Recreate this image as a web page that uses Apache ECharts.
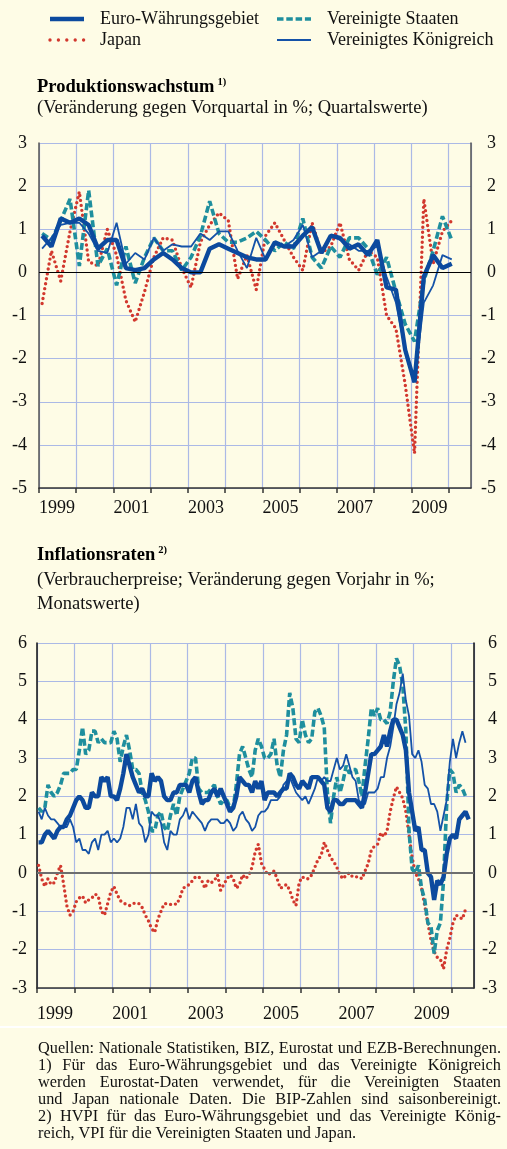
<!DOCTYPE html>
<html>
<head>
<meta charset="utf-8">
<script src="https://cdn.jsdelivr.net/npm/echarts@6/dist/echarts.min.js"></script>
<style>
    html, body { margin: 0; padding: 0; background: #fefce6; }
    #main { position: absolute; left: 0; top: 0; width: 507px; height: 1149px; }
    #notes {
        position: absolute; left: 38px; top: 1039px; width: 463px;
        font-family: 'Liberation Serif', serif; font-size: 16.3px; line-height: 17px; color: #111;
    }
    #notes div { white-space: nowrap; }
    #notes .j { text-align: justify; text-align-last: justify; }
</style>
</head>
<body>
<div id="main"></div>
<div id="notes">
    <div class="j">Quellen: Nationale Statistiken, BIZ, Eurostat und EZB-Berechnungen.</div>
    <div class="j">1) Für das Euro-Währungsgebiet und das Vereinigte Königreich</div>
    <div class="j">werden Eurostat-Daten verwendet, für die Vereinigten Staaten</div>
    <div class="j">und Japan nationale Daten. Die BIP-Zahlen sind saisonbereinigt.</div>
    <div class="j">2) HVPI für das Euro-Währungsgebiet und das Vereinigte König-</div>
    <div>reich, VPI für die Vereinigten Staaten und Japan.</div>
</div>
<script>
    // Quartalswerte 1999 Q1 - 2010 Q1
    var euroGdp = [0.85, 0.6, 1.25, 1.15, 1.25, 1.1, 0.55, 0.75, 0.75, 0.1, 0.05, 0.1, 0.3, 0.45, 0.3, 0.1,
        0.0, 0.0, 0.55, 0.65, 0.55, 0.45, 0.35, 0.3, 0.3, 0.7, 0.6, 0.6, 0.85, 1.05, 0.45, 0.85,
        0.8, 0.55, 0.65, 0.4, 0.75, -0.35, -0.4, -1.8, -2.55, -0.1, 0.4, 0.1, 0.2]
    var usGdp = [0.9, 0.75, 1.2, 1.7, 0.15, 1.9, 0.15, 0.55, -0.3, 0.6, -0.25, 0.35, 0.8, 0.5, 0.5, 0.05,
        0.35, 0.85, 1.65, 0.9, 0.7, 0.7, 0.8, 0.95, 0.75, 0.5, 0.7, 0.55, 1.25, 0.35, 0.1, 0.6,
        0.35, 0.8, 0.8, 0.55, -0.05, 0.35, -0.45, -1.2, -1.6, -0.2, 0.5, 1.3, 0.75]
    var japanGdp = [-0.72, 0.5, -0.2, 0.95, 1.87, 0.25, 0.15, 1.0, 0.4, -0.65, -1.15, -0.45, 0.35, 0.8, 0.75, 0.1,
        -0.35, 0.7, 1.1, 1.38, 1.2, -0.15, 0.4, -0.4, 0.85, 1.15, 0.75, 0.35, 0.05, 1.15, 0.45, 0.6,
        1.15, 0.3, 0.05, 0.5, 0.35, -1.0, -1.3, -2.6, -4.2, 1.7, 0.2, 0.95, 1.2]
    var ukGdp = [0.55, 0.8, 1.1, 1.15, 1.15, 0.9, 0.5, 0.45, 1.15, 0.2, 0.45, 0.3, 0.8, 0.5, 0.65, 0.6,
        0.6, 0.9, 0.75, 0.95, 0.95, 0.5, 0.1, 0.8, 0.3, 0.65, 0.6, 0.75, 1.1, 0.35, 0.5, 0.85,
        0.75, 0.65, 0.5, 0.5, 0.6, -0.1, -0.7, -1.8, -2.5, -0.7, -0.3, 0.4, 0.3]

    // Monatswerte ab Januar 1999
    var euroHicp = [0.8, 0.8, 1.0, 1.1, 1.0, 0.9, 1.1, 1.2, 1.2, 1.4, 1.5, 1.7,
        1.9, 2.0, 1.9, 1.7, 1.7, 2.1, 2.0, 2.0, 2.5, 2.4, 2.5, 2.0,
        2.0, 1.9, 2.2, 2.6, 3.1, 2.8, 2.5, 2.3, 2.1, 2.2, 2.0, 2.0,
        2.6, 2.4, 2.5, 2.4, 2.0, 1.9, 1.9, 2.1, 2.1, 2.3, 2.3, 2.3,
        2.1, 2.4, 2.5, 2.1, 1.8, 1.9, 1.9, 2.1, 2.2, 2.0, 2.2, 2.0,
        1.8, 1.6, 1.7, 2.0, 2.5, 2.4, 2.3, 2.3, 2.1, 2.4, 2.2, 2.4,
        1.9, 2.1, 2.1, 2.1, 2.0, 2.1, 2.2, 2.2, 2.6, 2.5, 2.3, 2.2,
        2.4, 2.3, 2.2, 2.5, 2.5, 2.5, 2.4, 2.3, 1.7, 1.6, 1.9, 1.9,
        1.8, 1.8, 1.9, 1.9, 1.9, 1.9, 1.8, 1.7, 2.1, 2.6, 3.1, 3.1,
        3.2, 3.3, 3.6, 3.3, 3.7, 4.0, 4.0, 3.8, 3.6, 3.2, 2.1, 1.6,
        1.1, 1.2, 0.6, 0.6, 0.0, -0.1, -0.7, -0.2, -0.3, -0.1, 0.5, 0.9,
        1.0, 0.9, 1.4, 1.5, 1.6, 1.4]
    var usCpi = [1.7, 1.6, 1.7, 2.3, 2.1, 2.0, 2.1, 2.3, 2.6, 2.6, 2.6, 2.7,
        2.7, 3.2, 3.8, 3.1, 3.2, 3.7, 3.7, 3.4, 3.5, 3.4, 3.4, 3.4,
        3.7, 3.5, 2.9, 3.3, 3.6, 3.2, 2.7, 2.7, 2.6, 2.1, 1.9, 1.6,
        1.1, 1.1, 1.5, 1.6, 1.2, 1.1, 1.5, 1.8, 1.5, 2.0, 2.2, 2.4,
        2.6, 3.0, 3.0, 2.2, 2.1, 2.1, 2.1, 2.2, 2.3, 2.0, 1.8, 1.9,
        1.9, 1.7, 1.7, 2.3, 3.1, 3.3, 3.0, 2.7, 2.5, 3.2, 3.5, 3.3,
        3.0, 3.0, 3.1, 3.5, 2.8, 2.5, 3.2, 3.6, 4.7, 4.3, 3.5, 3.4,
        4.0, 3.6, 3.4, 3.5, 4.2, 4.3, 4.1, 3.8, 2.1, 1.3, 2.0, 2.5,
        2.1, 2.4, 2.8, 2.6, 2.7, 2.7, 2.4, 2.0, 2.8, 3.5, 4.3, 4.1,
        4.3, 4.0, 4.0, 3.9, 4.2, 5.0, 5.6, 5.4, 4.9, 3.7, 1.1, 0.1,
        0.0, 0.2, -0.4, -0.7, -1.3, -1.4, -2.1, -1.5, -1.3, -0.2, 1.8, 2.7,
        2.6, 2.1, 2.3, 2.2, 2.0]
    var japanCpi = [0.2, -0.15, -0.35, -0.15, -0.3, -0.25, 0.0, 0.2, -0.3, -0.85, -1.1, -1.0,
        -0.75, -0.65, -0.6, -0.78, -0.7, -0.65, -0.55, -0.6, -1.0, -1.1, -0.8, -0.5,
        -0.35, -0.55, -0.72, -0.78, -0.82, -0.85, -0.8, -0.78, -0.8, -0.9, -1.1, -1.25,
        -1.45, -1.55, -1.2, -1.0, -0.8, -0.8, -0.82, -0.8, -0.82, -0.65, -0.4, -0.35,
        -0.3, -0.2, -0.1, -0.1, -0.2, -0.4, -0.2, -0.25, -0.2, -0.05, -0.45, -0.3,
        -0.15, -0.05, -0.15, -0.4, -0.3, -0.05, -0.15, -0.05, 0.15, 0.55, 0.75, 0.25,
        0.1, -0.05, 0.0, 0.05, -0.15, -0.4, -0.35, -0.3, -0.45, -0.7, -0.85, -0.25,
        -0.1, -0.15, -0.15, -0.05, 0.15, 0.35, 0.45, 0.8, 0.6, 0.4, 0.3, 0.15,
        -0.05, -0.15, -0.05, 0.0, -0.1, -0.1, -0.1, -0.15, 0.05, 0.25, 0.6, 0.7,
        0.75, 1.05, 0.95, 1.1, 1.6, 1.95, 2.25, 2.1, 1.95, 1.6, 1.0, 0.4,
        0.0, -0.15, -0.4, -0.85, -1.3, -1.75, -2.05, -2.2, -2.25, -2.5, -2.0, -1.7,
        -1.3, -1.1, -1.15, -1.2, -0.95]
    var ukCpi = [1.6, 1.4, 1.7, 1.5, 1.4, 1.4, 1.3, 1.2, 1.2, 1.2, 1.4, 1.2,
        0.8, 0.9, 0.6, 0.6, 0.5, 0.8, 0.9, 0.6, 1.0, 1.0, 1.1, 0.8,
        0.9, 0.8, 0.9, 1.2, 1.7, 1.7, 1.4, 1.8, 1.3, 1.2, 0.8, 1.0,
        1.6, 1.5, 1.5, 1.3, 0.8, 0.6, 1.1, 1.0, 1.0, 1.4, 1.5, 1.7,
        1.4, 1.6, 1.5, 1.4, 1.3, 1.1, 1.3, 1.4, 1.4, 1.4, 1.3, 1.3,
        1.4, 1.3, 1.1, 1.2, 1.5, 1.6, 1.4, 1.3, 1.1, 1.2, 1.5, 1.6,
        1.6, 1.7, 1.9, 1.9, 1.9, 2.0, 2.3, 2.4, 2.5, 2.3, 2.1, 2.0,
        1.9, 2.0, 1.8, 2.0, 2.2, 2.5, 2.4, 2.5, 2.4, 2.4, 2.7, 3.0,
        2.7, 2.8, 3.1, 2.8, 2.5, 2.4, 1.9, 1.8, 1.8, 2.1, 2.1, 2.1,
        2.2, 2.5, 2.5, 3.0, 3.3, 3.8, 4.4, 4.7, 5.2, 4.5, 4.1, 3.1,
        3.0, 3.2, 2.9, 2.3, 2.2, 1.8, 1.8, 1.6, 1.1, 1.5, 1.9, 2.9,
        3.5, 3.0, 3.4, 3.7, 3.4]

    var startYear = 1999
    var yearLabels = [1999, 2001, 2003, 2005, 2007, 2009]
    var names = ['Euro-Währungsgebiet', 'Vereinigte Staaten', 'Japan', 'Vereinigtes Königreich']

    var font = 'Liberation Serif'
    var txt = '#111'
    var gridColor = '#abb9e6'
    var cEuro = '#0c4a9e'
    var cUk = '#1452a8'
    var cUs = '#1f8f9e'
    var cJp = '#d2382e'

    // Quartal i in der Mitte des zweiten Monats, Monat k in der Monatsmitte
    function quarterly(arr) {
        return arr.map(function (v, i) { return [startYear + (i + 1 / 3) / 4, v] })
    }
    function monthly(arr) {
        return arr.map(function (v, k) { return [startYear + (k + 0.5) / 12, v] })
    }

    var myChart = echarts.init(document.getElementById('main'), null, { renderer: 'canvas' })

    function xAxisCfg(gridIndex, margin) {
        return {
            type: 'value', gridIndex: gridIndex, min: 1999, max: 2010.6, interval: 1,
            axisLine: { onZero: false, lineStyle: { color: '#333', width: 1.5 } },
            axisTick: { show: true, length: 5, lineStyle: { color: '#333', width: 1.5 } },
            axisLabel: {
                align: 'left', margin: margin, fontFamily: font, fontSize: 18, color: txt,
                showMaxLabel: false,
                formatter: function (v) { return yearLabels.indexOf(v) >= 0 ? String(v) : '' }
            },
            splitLine: { show: true, lineStyle: { color: gridColor, width: 1.2 } }
        }
    }
    function yAxisCfg(gridIndex, min, max, pos, margin, axisColor) {
        return {
            type: 'value', gridIndex: gridIndex, min: min, max: max, interval: 1, position: pos,
            axisLine: { show: true, lineStyle: { color: axisColor, width: 1.5 } },
            axisTick: { show: false },
            axisLabel: { align: 'right', margin: margin, fontFamily: font, fontSize: 18, color: txt },
            splitLine: { show: pos === 'left', lineStyle: { color: gridColor, width: 1.2 } }
        }
    }

    function zeroLine(color, width) {
        return {
            silent: true, symbol: 'none', label: { show: false },
            lineStyle: { color: color, width: width, type: 'solid' },
            data: [{ yAxis: 0 }]
        }
    }

    function seriesSet(xi, yi, euro, us, jp, uk, conv, zeroColor, zeroWidth) {
        return [{
            name: names[2], type: 'line', xAxisIndex: xi, yAxisIndex: yi, data: conv(jp),
            symbol: 'none', animation: false,
            lineStyle: { color: cJp, width: 3.4, type: [0, 5], cap: 'round' },
            markLine: zeroLine(zeroColor, zeroWidth)
        }, {
            name: names[1], type: 'line', xAxisIndex: xi, yAxisIndex: yi, data: conv(us),
            symbol: 'none', animation: false,
            lineStyle: { color: cUs, width: 3.6, type: [7, 3] }
        }, {
            name: names[3], type: 'line', xAxisIndex: xi, yAxisIndex: yi, data: conv(uk),
            symbol: 'none', animation: false,
            lineStyle: { color: cUk, width: 1.8 }
        }, {
            name: names[0], type: 'line', xAxisIndex: xi, yAxisIndex: yi, data: conv(euro),
            symbol: 'none', animation: false,
            lineStyle: { color: cEuro, width: 4.4 }
        }]
    }

    function legendItem(x, y, name, lineStyle) {
        return [{
            type: 'line', shape: { x1: x, y1: y, x2: x + 34, y2: y }, style: lineStyle
        }, {
            type: 'text', x: x + 50, y: y,
            style: { text: name, font: '18px "' + font + '"', fill: txt, verticalAlign: 'middle' }
        }]
    }

    function textEl(x, y, text, rich) {
        return {
            type: 'text', x: x, y: y,
            style: { text: text, font: '18.5px "' + font + '"', fill: txt, verticalAlign: 'middle', rich: rich }
        }
    }

    var titleRich = {
        a: { fontFamily: font, fontSize: 18.5, fontWeight: 'bold', fill: '#000', lineHeight: 20 },
        b: { fontFamily: font, fontSize: 10.5, fontWeight: 'bold', fill: '#000', verticalAlign: 'top', lineHeight: 20, padding: [0, 0, 0, 3] }
    }

    var graphic = [].concat(
        legendItem(50, 19, names[0], { stroke: cEuro, lineWidth: 4.4 }),
        legendItem(50, 40, names[2], { stroke: cJp, lineWidth: 3.4, lineDash: [0, 8.4], lineCap: 'round' }),
        legendItem(277, 19, names[1], { stroke: cUs, lineWidth: 3.6, lineDash: [6.5, 2.8] }),
        legendItem(277, 40, names[3], { stroke: cUk, lineWidth: 1.8 }),
        [
            textEl(37, 87, '{a|Produktionswachstum}{b|1)}', titleRich),
            textEl(37, 108, '(Veränderung gegen Vorquartal in %; Quartalswerte)'),
            textEl(37, 555, '{a|Inflationsraten}{b|2)}', titleRich),
            textEl(37, 580, '(Verbraucherpreise; Veränderung gegen Vorjahr in %;'),
            textEl(37, 604, 'Monatswerte)'),
            { type: 'rect', shape: { x: 0, y: 1026, width: 507, height: 2 }, style: { fill: '#ffffff' } }
        ]
    )

    var option = {
        backgroundColor: '#fefce6',
        animation: false,
        grid: [
            { left: 39, right: 36, top: 143, height: 345 },
            { left: 37, right: 33, top: 643, height: 345 }
        ],
        xAxis: [xAxisCfg(0, 11), xAxisCfg(1, 17)],
        yAxis: [
            yAxisCfg(0, -5, 3, 'left', 12, '#555'),
            yAxisCfg(0, -5, 3, 'right', 25, '#555'),
            yAxisCfg(1, -3, 6, 'left', 10, '#111'),
            yAxisCfg(1, -3, 6, 'right', 23, '#111')
        ],
        series: [].concat(
            seriesSet(0, 0, euroGdp, usGdp, japanGdp, ukGdp, quarterly, '#000', 1.2),
            seriesSet(1, 2, euroHicp, usCpi, japanCpi, ukCpi, monthly, '#6e6e6e', 2.2)
        ),
        graphic: graphic
    }

    myChart.setOption(option)
</script>
</body>
</html>
